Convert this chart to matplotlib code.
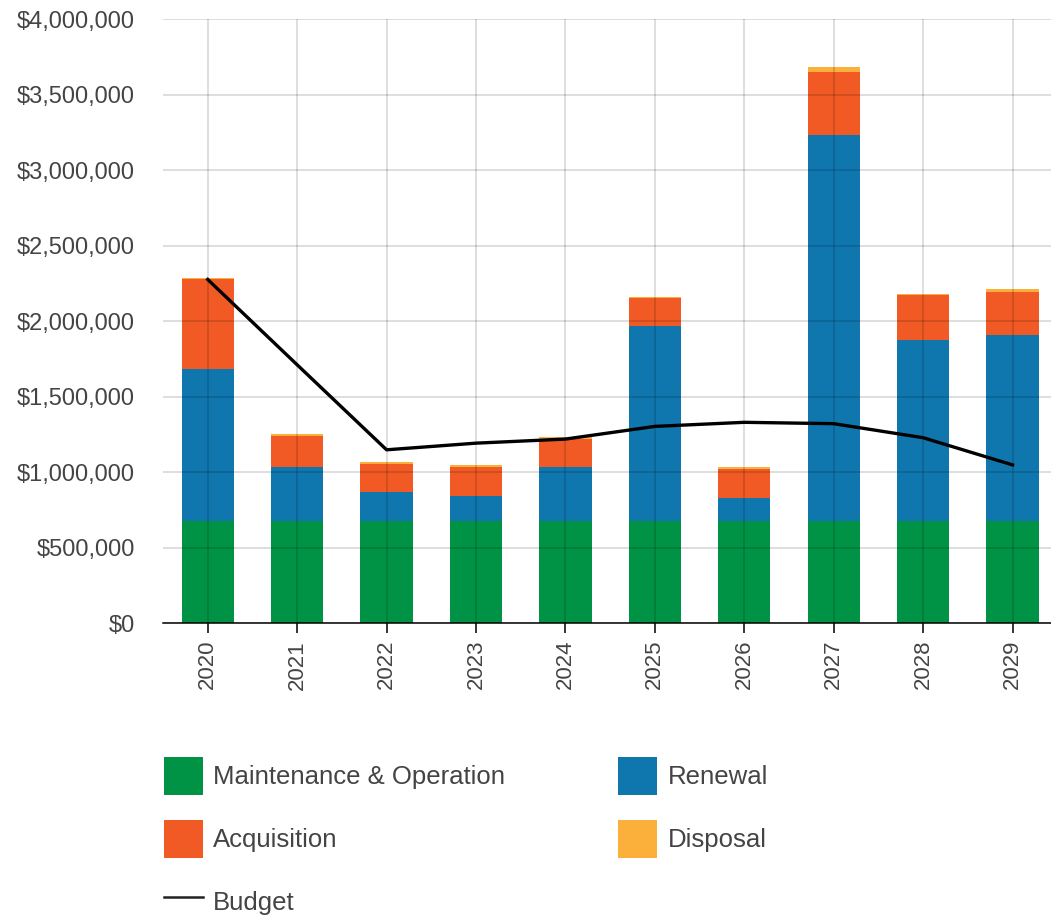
"""Stacked lifecycle cost bars (2020-2029) with the budget line on top."""

import matplotlib

matplotlib.use("Agg")
import matplotlib.pyplot as plt
import numpy as np
from matplotlib.lines import Line2D
from matplotlib.patches import Patch
from matplotlib.ticker import FuncFormatter, MultipleLocator

plt.rcParams["font.family"] = ["Liberation Sans", "DejaVu Sans"]

years = ["2020", "2021", "2022", "2023", "2024", "2025", "2026", "2027", "2028", "2029"]
maintenance = [675_000, 675_000, 675_000, 675_000, 675_000, 675_000, 675_000, 675_000, 675_000, 675_000]
renewal = [1_007_000, 362_000, 196_000, 167_000, 362_000, 1_292_000, 152_000, 2_560_000, 1_202_000, 1_234_000]
acquisition = [600_000, 205_000, 184_000, 195_000, 185_000, 186_000, 193_000, 414_000, 294_000, 288_000]
disposal = [6_000, 11_000, 12_000, 12_000, 11_000, 11_000, 13_000, 38_000, 11_000, 18_000]
budget = [2_277_000, 1_712_000, 1_149_000, 1_193_000, 1_220_000, 1_304_000, 1_331_000, 1_322_000, 1_229_000, 1_049_000]

C_MAINT = "#009245"
C_RENEW = "#1076AE"
C_ACQ = "#F15A24"
C_DISP = "#FBB03B"
TXT = "#444444"

fig = plt.figure(figsize=(10.51, 9.18), dpi=100)
ax = fig.add_axes([163 / 1051, 1 - 623.3 / 918, 1 - 163 / 1051, (623.3 - 19.3) / 918])

x = np.arange(len(years))
w = 0.585
m = np.array(maintenance)
r = np.array(renewal)
a = np.array(acquisition)
d = np.array(disposal)
ax.bar(x, m, w, color=C_MAINT, zorder=1)
ax.bar(x, r, w, bottom=m, color=C_RENEW, zorder=1)
ax.bar(x, a, w, bottom=m + r, color=C_ACQ, zorder=1)
ax.bar(x, d, w, bottom=m + r + a, color=C_DISP, zorder=1)
ax.plot(x, budget, color="black", lw=2.4, zorder=4, solid_joinstyle="round")

ax.set_xlim(-0.5, 9.43)
ax.set_ylim(0, 4_000_000)
ax.yaxis.set_major_locator(MultipleLocator(500_000))
ax.yaxis.set_major_formatter(FuncFormatter(lambda v, _: f"${v:,.0f}"))
ax.set_xticks(x)
ax.set_xticklabels(years, rotation=90)

ax.grid(True, color="black", alpha=0.17, lw=1.1, zorder=2)
ax.set_axisbelow(False)
for s in ("top", "right", "left"):
    ax.spines[s].set_visible(False)
ax.spines["bottom"].set_color("black")
ax.spines["bottom"].set_linewidth(1.1)
ax.spines["bottom"].set_zorder(5)

ax.tick_params(axis="y", length=0, pad=20, labelsize=17, labelcolor=TXT)
ax.tick_params(axis="x", length=7, width=1.1, color="black", pad=5,
               labelsize=16, labelcolor=TXT)

handles = [
    Patch(facecolor=C_MAINT, label="Maintenance & Operation"),
    Patch(facecolor=C_ACQ, label="Acquisition"),
    Line2D([0], [0], color="#222222", lw=1.8, label="Budget"),
    Patch(facecolor=C_RENEW, label="Renewal"),
    Patch(facecolor=C_DISP, label="Disposal"),
]
fig.legend(
    handles=handles,
    loc="upper left",
    bbox_to_anchor=(164 / 1051, 1 - 757 / 918),
    ncol=2,
    frameon=False,
    fontsize=18.5,
    labelcolor=TXT,
    handlelength=1.52,
    handleheight=1.9,
    handletextpad=0.4,
    labelspacing=0.97,
    columnspacing=4.4,
    borderpad=0,
    borderaxespad=0,
)

fig.savefig("out.png", dpi=100)
